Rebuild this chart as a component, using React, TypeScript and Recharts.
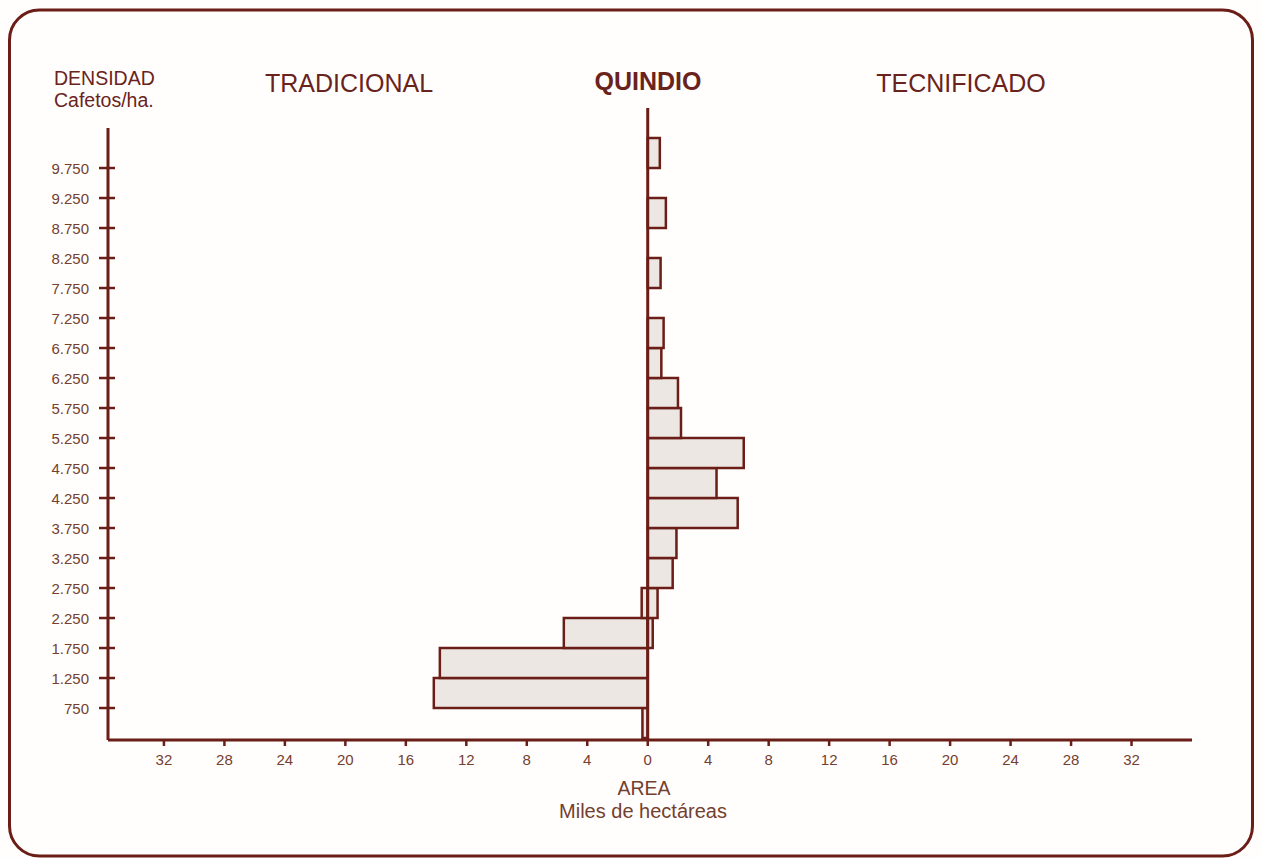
import React from "react";
import {
  BarChart,
  Bar,
  XAxis,
  YAxis,
  ReferenceLine,
} from "recharts";

// bin centres (cafetos/ha), bins are 500 wide: 250-750, 750-1250, ...
const densidad = [
  500, 1000, 1500, 2000, 2500, 3000, 3500, 4000, 4500, 5000,
  5500, 6000, 6500, 7000, 7500, 8000, 8500, 9000, 9500, 10000,
];

// miles de hectáreas
const tradicional = [
  0.35, 14.15, 13.75, 5.55, 0.4, 0, 0, 0, 0, 0,
  0, 0, 0, 0, 0, 0, 0, 0, 0, 0,
];
const tecnificado = [
  0, 0, 0, 0.33, 0.65, 1.65, 1.9, 5.95, 4.55, 6.35,
  2.2, 2.0, 0.9, 1.05, 0, 0.85, 0, 1.2, 0, 0.8,
];

const densidadTicks = [
  750, 1250, 1750, 2250, 2750, 3250, 3750, 4250, 4750, 5250,
  5750, 6250, 6750, 7250, 7750, 8250, 8750, 9250, 9750,
];
const areaTicks = [-32, -28, -24, -20, -16, -12, -8, -4, 0, 4, 8, 12, 16, 20, 24, 28, 32];

const LINE = "#6b1d17";
const TITLE = "#6a231c";
const TICK = "#74402f";
const FONT = "'Liberation Sans', Arial, sans-serif";

const data = densidad.map((d, i) => ({
  d,
  trad: tradicional[i] ? -tradicional[i] : 0,
  tec: tecnificado[i],
}));

function fmtDensidad(v: number) {
  if (v < 1000) return String(v);
  return `${Math.floor(v / 1000)}.${String(v % 1000).padStart(3, "0")}`;
}

function DensidadTick({ x, y, payload }: any) {
  return (
    <g>
      <line x1={x - 9} x2={x + 7} y1={y} y2={y} stroke={LINE} strokeWidth={2.5} />
      <text
        x={x - 19}
        y={y + 5.5}
        textAnchor="end"
        fontSize={15}
        fontFamily={FONT}
        fill={TICK}
      >
        {fmtDensidad(payload.value)}
      </text>
    </g>
  );
}

export default function App() {
  return (
    <div style={{ position: "absolute", left: 0, top: 0, width: 1262, height: 858, background: "#fffefd" }}>
      <BarChart
        width={1262}
        height={858}
        data={data}
        layout="vertical"
        stackOffset="sign"
        barCategoryGap={0}
        margin={{ top: 128, right: 70, left: 48, bottom: 78 }}
      >
        <XAxis
          type="number"
          domain={[-35.7, 36]}
          allowDataOverflow
          ticks={areaTicks}
          tickFormatter={(v) => String(Math.abs(v))}
          height={40}
          tickSize={6}
          tickMargin={8}
          axisLine={{ stroke: LINE, strokeWidth: 3 }}
          tickLine={{ stroke: LINE, strokeWidth: 2.5 }}
          tick={{ fill: TICK, fontSize: 15, fontFamily: FONT }}
        />
        <YAxis
          yAxisId="cat"
          type="category"
          dataKey="d"
          reversed
          hide
          width={0}
          padding={{ top: 10, bottom: 2 }}
        />
        <YAxis
          yAxisId="num"
          type="number"
          dataKey="d"
          domain={[217, 10417]}
          allowDataOverflow
          reversed
          ticks={densidadTicks}
          width={60}
          tickSize={0}
          tickMargin={0}
          tickLine={false}
          axisLine={{ stroke: LINE, strokeWidth: 3 }}
          tick={<DensidadTick />}
        />
        <Bar
          yAxisId="cat"
          dataKey="trad"
          stackId="a"
          fill="#ece7e3"
          stroke={LINE}
          strokeWidth={2.5}
          isAnimationActive={false}
        />
        <Bar
          yAxisId="cat"
          dataKey="tec"
          stackId="a"
          fill="#ece7e3"
          stroke={LINE}
          strokeWidth={2.5}
          isAnimationActive={false}
        />
        <ReferenceLine
          yAxisId="num"
          ifOverflow="visible"
          segment={[
            { x: 0, y: 10750 },
            { x: 0, y: 217 },
          ]}
          stroke={LINE}
          strokeWidth={3}
        />
      </BarChart>
      <svg
        width={1262}
        height={858}
        style={{ position: "absolute", left: 0, top: 0, pointerEvents: "none" }}
        fontFamily={FONT}
      >
        <rect x={9.5} y={10} width={1243} height={846} rx={30} fill="none" stroke={LINE} strokeWidth={3} />
        <text x={54} y={85} fontSize={19.5} fill={TITLE}>DENSIDAD</text>
        <text x={54} y={107} fontSize={19.5} fill={TITLE}>Cafetos/ha.</text>
        <text x={349} y={92} fontSize={25} fill={TITLE} textAnchor="middle">TRADICIONAL</text>
        <text x={648} y={90} fontSize={25} fontWeight="bold" fill={TITLE} textAnchor="middle">QUINDIO</text>
        <text x={961} y={92} fontSize={25} fill={TITLE} textAnchor="middle">TECNIFICADO</text>
        <text x={644} y={795} fontSize={19.5} fill={TICK} textAnchor="middle">AREA</text>
        <text x={643} y={818} fontSize={20} fill={TICK} textAnchor="middle">Miles de hectáreas</text>
      </svg>
    </div>
  );
}
